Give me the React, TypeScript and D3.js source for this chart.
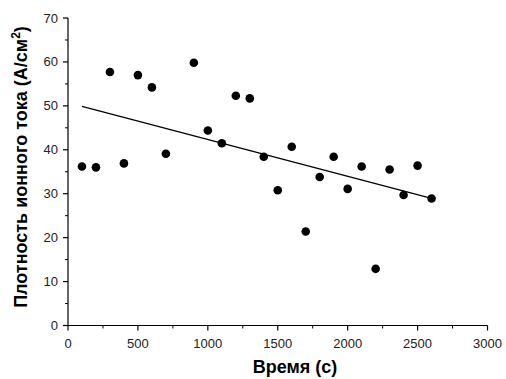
import React from "react";
import * as d3 from "d3";

const times = [100, 200, 300, 400, 500, 600, 700, 900, 1000, 1100, 1200, 1300, 1400, 1500, 1600, 1700, 1800, 1900, 2000, 2100, 2200, 2300, 2400, 2500, 2600];
const density = [36.2, 36.0, 57.7, 36.9, 57.0, 54.2, 39.1, 59.8, 44.4, 41.5, 52.3, 51.7, 38.4, 30.8, 40.7, 21.4, 33.8, 38.4, 31.1, 36.2, 12.9, 35.5, 29.7, 36.4, 28.9];
const xTicks = [0, 500, 1000, 1500, 2000, 2500, 3000];
const yTicks = [0, 10, 20, 30, 40, 50, 60, 70];
const xMinor = d3.range(250, 3000, 500);
const yMinor = d3.range(5, 70, 10);

export default function App() {
  const W = 506, H = 379;
  const x = d3.scaleLinear().domain([0, 3000]).range([68, 487.5]);
  const y = d3.scaleLinear().domain([0, 70]).range([325.5, 18]);
  const n = times.length;
  const mx = d3.mean(times)!;
  const my = d3.mean(density)!;
  let sxy = 0, sxx = 0;
  for (let i = 0; i < n; i++) {
    sxy += (times[i] - mx) * (density[i] - my);
    sxx += (times[i] - mx) ** 2;
  }
  const slope = sxy / sxx;
  const icpt = my - slope * mx;
  const x0 = d3.min(times)!, x1 = d3.max(times)!;
  const font = "'Liberation Sans', Arial, sans-serif";
  return (
    <svg width={W} height={H} style={{ position: "absolute", left: 0, top: 0, background: "#fff" }} fontFamily={font}>
      {/* axes */}
      <line x1={x(0)} x2={x(3000)} y1={y(0)} y2={y(0)} stroke="#000" strokeWidth={1.2} />
      <line x1={x(0)} x2={x(0)} y1={y(0)} y2={y(70)} stroke="#000" strokeWidth={1.2} />
      {xTicks.map((t) => (
        <g key={"xt" + t}>
          <line x1={x(t)} x2={x(t)} y1={y(0)} y2={y(0) + 5} stroke="#000" strokeWidth={1.2} />
          <text x={x(t)} y={y(0) + 22.5} textAnchor="middle" fontSize={13} fill="#222">{t}</text>
        </g>
      ))}
      {xMinor.map((t) => (
        <line key={"xm" + t} x1={x(t)} x2={x(t)} y1={y(0)} y2={y(0) + 3} stroke="#000" strokeWidth={1} />
      ))}
      {yTicks.map((t) => (
        <g key={"yt" + t}>
          <line x1={x(0) - 5} x2={x(0)} y1={y(t)} y2={y(t)} stroke="#000" strokeWidth={1.2} />
          <text x={x(0) - 10} y={y(t) + 4.5} textAnchor="end" fontSize={13} fill="#222">{t}</text>
        </g>
      ))}
      {yMinor.map((t) => (
        <line key={"ym" + t} x1={x(0) - 3} x2={x(0)} y1={y(t)} y2={y(t)} stroke="#000" strokeWidth={1} />
      ))}
      {/* fit line */}
      <line x1={x(x0)} y1={y(icpt + slope * x0)} x2={x(x1)} y2={y(icpt + slope * x1)} stroke="#000" strokeWidth={1.3} />
      {/* points */}
      {times.map((t, i) => (
        <circle key={"p" + i} cx={x(t)} cy={y(density[i])} r={4.3} fill="#000" />
      ))}
      {/* titles */}
      <text x={295} y={373} textAnchor="middle" fontSize={18} fontWeight="bold" fill="#000">Время (с)</text>
      <text transform={`translate(27,167) rotate(-90)`} textAnchor="middle" fontSize={18} fontWeight="bold" fill="#000">
        Плотность ионного тока (А/см<tspan dy={-7} fontSize={12}>2</tspan><tspan dy={7}>)</tspan>
      </text>
    </svg>
  );
}
